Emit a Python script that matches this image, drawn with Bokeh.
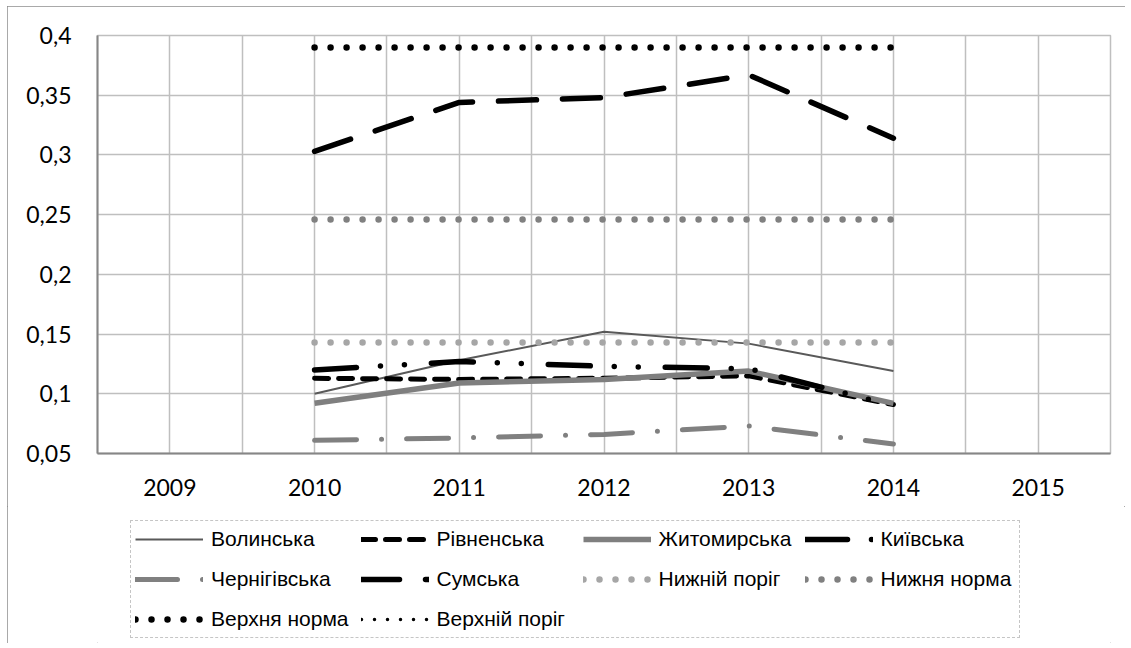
from bokeh.plotting import figure
from bokeh.models import Legend, LegendItem, FixedTicker, Range1d
from bokeh.layouts import column
from bokeh.embed import file_html
from bokeh.resources import INLINE

# ---- data ----
years = [2010, 2011, 2012, 2013, 2014]
volynska = [0.100, 0.128, 0.152, 0.142, 0.119]
rivnenska = [0.113, 0.112, 0.113, 0.115, 0.091]
zhytomyrska = [0.092, 0.109, 0.112, 0.119, 0.092]
kyivska = [0.120, 0.127, 0.123, 0.121, 0.090]
chernihivska = [0.061, 0.063, 0.066, 0.073, 0.058]
sumska = [0.303, 0.344, 0.348, 0.367, 0.314]
nyzhnii_porih = [0.143, 0.143, 0.143, 0.143, 0.143]
nyzhnia_norma = [0.246, 0.246, 0.246, 0.246, 0.246]
verkhnia_norma = [0.390, 0.390, 0.390, 0.390, 0.390]
verkhnii_porih = [0.450, 0.450, 0.450, 0.450, 0.450]  # above the axis maximum, not visible

series_names = ["Волинська", "Рівненська", "Житомирська", "Київська", "Чернігівська",
                "Сумська", "Нижній поріг", "Нижня норма", "Верхня норма", "Верхній поріг"]

x_tick_values = [2009, 2010, 2011, 2012, 2013, 2014, 2015]
x_tick_labels = ["2009", "2010", "2011", "2012", "2013", "2014", "2015"]
y_tick_values = [0.05, 0.1, 0.15, 0.2, 0.25, 0.3, 0.35, 0.4]
y_tick_labels = ["0,05", "0,1", "0,15", "0,2", "0,25", "0,3", "0,35", "0,4"]

# ---- main figure ----
p = figure(frame_width=1013, frame_height=418,
           min_border_left=90, min_border_right=15, min_border_top=29, min_border_bottom=53,
           x_range=Range1d(2008.5, 2015.5), y_range=Range1d(0.05, 0.4),
           output_backend="svg", toolbar_location=None)
p.background_fill_color = "white"
p.border_fill_color = "white"
p.outline_line_color = "#bfbfbf"
p.outline_line_width = 1.5

p.xaxis.ticker = FixedTicker(ticks=x_tick_values)
p.xaxis.major_label_overrides = dict(zip(x_tick_values, x_tick_labels))
p.yaxis.ticker = FixedTicker(ticks=y_tick_values)
p.yaxis.major_label_overrides = dict(zip(y_tick_values, y_tick_labels))
for ax in (p.xaxis, p.yaxis):
    ax.axis_line_color = "#868686"
    ax.axis_line_width = 2
    ax.major_tick_line_color = None
    ax.minor_tick_line_color = None
    ax.major_tick_out = 0
    ax.minor_tick_out = 0
    ax.major_label_text_font = "Lato"
    ax.major_label_text_font_size = "23px"
    ax.major_label_text_color = "#000000"
p.xaxis.major_label_standoff = 25
p.yaxis.major_label_standoff = 26

p.xgrid.ticker = FixedTicker(ticks=[2008.5 + 0.5 * i for i in range(15)])
p.ygrid.ticker = FixedTicker(ticks=y_tick_values)
for g in (p.xgrid, p.ygrid):
    g.grid_line_color = "#bfbfbf"
    g.grid_line_width = 1.5

styles = [
    dict(line_color="#595959", line_width=2),
    dict(line_color="#000000", line_width=5, line_dash="14 10", line_cap="round"),
    dict(line_color="#7f7f7f", line_width=5.5),
    dict(line_color="#000000", line_width=5.5, line_dash="42 24 0 24 0 27", line_cap="round"),
    dict(line_color="#808080", line_width=5, line_dash="42 25 0 25", line_cap="round"),
    dict(line_color="#000000", line_width=5.5, line_dash="38 26", line_cap="round"),
    dict(line_color="#a6a6a6", line_width=6.5, line_dash="0 16", line_cap="round"),
    dict(line_color="#808080", line_width=6.5, line_dash="0 16", line_cap="round"),
    dict(line_color="#000000", line_width=6.5, line_dash="0 16", line_cap="round"),
    dict(line_color="#000000", line_width=3.5, line_dash="0 13", line_cap="round"),
]
values = [volynska, rivnenska, zhytomyrska, kyivska, chernihivska,
          sumska, nyzhnii_porih, nyzhnia_norma, verkhnia_norma, verkhnii_porih]

for vals, st in zip(values, styles):
    p.line(years, vals, line_join="round", **st)

# ---- legend panel (own figure below the chart; its lines lie outside its view) ----
p2 = figure(width=1118, height=137, x_range=Range1d(0, 1), y_range=Range1d(0, 1),
            x_axis_location=None, y_axis_location=None, min_border=0,
            output_backend="svg", toolbar_location=None)
p2.grid.visible = False
p2.outline_line_color = None
p2.background_fill_color = "white"
p2.border_fill_color = "white"

items = []
for name, vals, st in zip(series_names, values, styles):
    r = p2.line(years, vals, line_join="round", **st)
    items.append(LegendItem(label=name, renderers=[r]))

legend = Legend(items=items, ncols=4, orientation="horizontal", location=(33, 5), margin=0,
                label_text_font="Liberation Sans", label_text_font_size="21px",
                label_text_color="#000000",
                glyph_width=68, glyph_height=28, label_height=28, label_width=134,
                label_standoff=8, spacing=12, padding=4,
                border_line_color="#8c8c8c", border_line_dash="2 2", border_line_width=1.5,
                background_fill_color="white", background_fill_alpha=1.0)
p2.add_layout(legend)

layout = column(p, p2, spacing=0)
layout.margin = (6, 0, 0, 7)
layout.styles = {"outline": "1px solid #8c8c8c", "outline-offset": "-1px"}

open("out.html", "w").write(file_html(layout, INLINE))
